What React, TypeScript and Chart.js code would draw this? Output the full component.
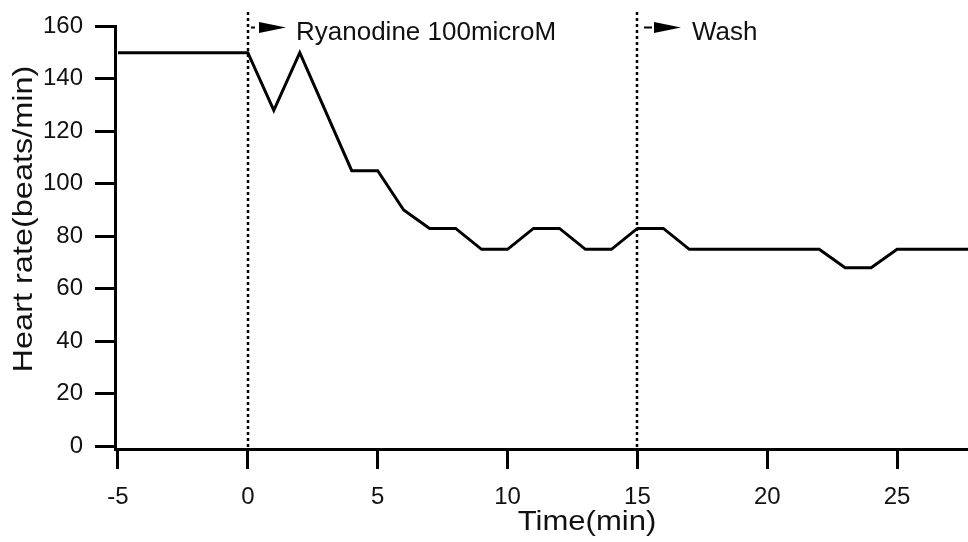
import { useEffect, useRef } from "react";
import { Chart, registerables } from "chart.js";

Chart.register(...registerables);

// Heart rate recording: sample times (min) and rates (beats/min)
const timeMin = [-5, 0, 1, 2, 4, 5, 6, 7, 8, 9, 10, 11, 12, 13, 14, 15, 16, 17, 22, 23, 24, 25, 28];
const heartRate = [150, 150, 128, 150, 105, 105, 90, 83, 83, 75, 75, 83, 83, 75, 75, 83, 83, 75, 75, 68, 68, 75, 75];

const xTicks = [-5, 0, 5, 10, 15, 20, 25];
const yTicks = [0, 20, 40, 60, 80, 100, 120, 140, 160];

const eventTimes = [0, 15];
const eventLabels = ["Ryanodine 100microM", "Wash"];

const FONT = "'Liberation Sans', Arial, Helvetica, sans-serif";

// pixel offsets of each marker's dash, arrow head and label from its dotted line
const markerGeom = [
  { dash: [3, 7], head: [11, 38], text: 48 },
  { dash: [7, 15], head: [17, 44], text: 55 },
];

const overlayPlugin = {
  id: "overlay",
  afterDatasetsDraw(chart: any) {
    const { ctx, chartArea } = chart;
    const x = chart.scales.x;
    ctx.save();
    eventTimes.forEach((t, i) => {
      const px = Math.round(x.getPixelForValue(t));
      const g = markerGeom[i];
      ctx.strokeStyle = "#000";
      ctx.lineWidth = 2.5;
      ctx.setLineDash([3, 3]);
      ctx.beginPath();
      ctx.moveTo(px, 12);
      ctx.lineTo(px, chartArea.bottom);
      ctx.stroke();
      ctx.setLineDash([]);
      // short dash leading to the arrow head
      ctx.lineWidth = 2;
      ctx.beginPath();
      ctx.moveTo(px + g.dash[0], 27.5);
      ctx.lineTo(px + g.dash[1], 27.5);
      ctx.stroke();
      // filled arrow head
      ctx.fillStyle = "#000";
      ctx.beginPath();
      ctx.moveTo(px + g.head[0], 22);
      ctx.lineTo(px + g.head[1], 27.5);
      ctx.lineTo(px + g.head[0], 33);
      ctx.closePath();
      ctx.fill();
      ctx.font = `26px ${FONT}`;
      ctx.textAlign = "left";
      ctx.textBaseline = "alphabetic";
      ctx.fillStyle = "#111";
      ctx.fillText(eventLabels[i], px + g.text, 40);
    });
    ctx.restore();
  },
  afterDraw(chart: any) {
    const { ctx } = chart;
    ctx.save();
    ctx.fillStyle = "#111";
    ctx.textBaseline = "alphabetic";
    ctx.textAlign = "center";
    // x axis title
    ctx.save();
    ctx.translate(587, 530);
    ctx.scale(1.15, 1);
    ctx.font = `27px ${FONT}`;
    ctx.fillText("Time(min)", 0, 0);
    ctx.restore();
    // y axis title
    ctx.save();
    ctx.translate(32, 219);
    ctx.rotate(-Math.PI / 2);
    ctx.scale(1.16, 1);
    ctx.font = `28px ${FONT}`;
    ctx.fillText("Heart rate(beats/min)", 0, 0);
    ctx.restore();
    ctx.restore();
  },
};

export default function App() {
  const canvasRef = useRef<HTMLCanvasElement | null>(null);

  useEffect(() => {
    const canvas = canvasRef.current;
    if (!canvas) return;
    const chart = new Chart(canvas, {
      type: "line",
      data: {
        datasets: [
          {
            data: timeMin.map((t, i) => ({ x: t, y: heartRate[i] })),
            borderColor: "#000",
            borderWidth: 3,
            pointRadius: 0,
            tension: 0,
            fill: false,
          },
        ],
      },
      options: {
        responsive: false,
        animation: false,
        events: [],
        layout: { padding: { top: 19, right: 0, left: 0, bottom: 0 } },
        plugins: {
          legend: { display: false },
          tooltip: { enabled: false },
          title: { display: false },
        },
        scales: {
          x: {
            type: "linear",
            min: -5.115,
            max: 27.73,
            afterBuildTicks: (s: any) => {
              s.ticks = xTicks.map((v) => ({ value: v }));
            },
            afterFit: (s: any) => {
              s.height = 93;
            },
            grid: {
              drawOnChartArea: false,
              drawTicks: true,
              tickLength: 20,
              tickColor: "#000",
              tickWidth: 3,
            },
            border: { display: true, color: "#000", width: 3 },
            ticks: {
              color: "#111",
              padding: 14,
              maxRotation: 0,
              autoSkip: false,
              font: { family: FONT, size: 24 },
            },
          },
          y: {
            type: "linear",
            min: -1.1,
            max: 160,
            afterBuildTicks: (s: any) => {
              s.ticks = yTicks.map((v) => ({ value: v }));
            },
            afterFit: (s: any) => {
              s.width = 115;
            },
            grid: {
              drawOnChartArea: false,
              drawTicks: true,
              tickLength: 20,
              tickColor: "#000",
              tickWidth: 3,
            },
            border: { display: true, color: "#000", width: 3 },
            ticks: {
              color: "#111",
              padding: 12,
              autoSkip: false,
              font: { family: FONT, size: 24 },
            },
          },
        },
      },
      plugins: [overlayPlugin],
    } as any);
    return () => chart.destroy();
  }, []);

  return (
    <div style={{ position: "absolute", left: 0, top: 0, width: 968, height: 542, background: "#fff" }}>
      <canvas ref={canvasRef} width={968} height={542} style={{ display: "block" }} />
    </div>
  );
}
